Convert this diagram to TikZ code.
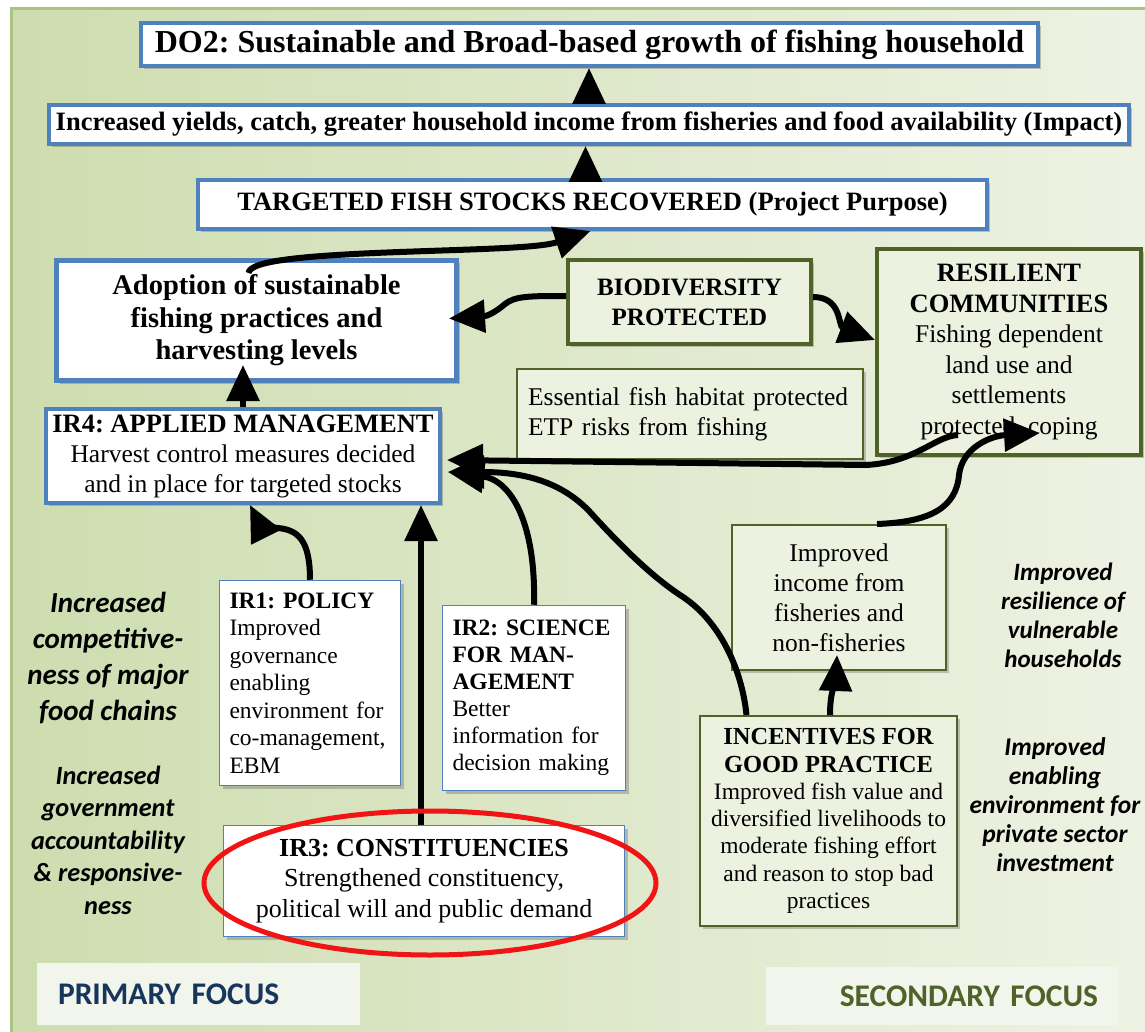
\documentclass[tikz,border=0pt]{standalone}
\usepackage{fontspec}
\setmainfont{Liberation Serif}
\newfontfamily\sidefont{Carlito}
\usetikzlibrary{arrows.meta,shadows,calc}
\definecolor{boxblue}{RGB}{79,129,189}
\definecolor{olivec}{RGB}{79,98,40}
\definecolor{bgL}{RGB}{205,221,175}
\definecolor{bgR}{RGB}{238,242,227}
\definecolor{panelline}{RGB}{170,195,128}
\definecolor{lightfill}{RGB}{236,241,224}
\definecolor{focusfill}{RGB}{241,245,235}
\definecolor{navy}{RGB}{23,54,93}
\definecolor{ringred}{RGB}{240,20,20}
\newcommand{\myfs}[2]{\fontsize{#1}{#2}\selectfont}
\frenchspacing
\tikzset{
  shad/.style={drop shadow={shadow xshift=3pt, shadow yshift=-3pt, opacity=0.3, fill=black!70}},
  bluebox/.style={draw=boxblue, line width=4pt, fill=white, inner sep=0pt, align=center, shad},
  thinblue/.style={draw=boxblue, line width=1.5pt, fill=white, inner sep=0pt, align=center, shad},
  olivebox/.style={draw=olivec, line width=4pt, fill=lightfill, inner sep=0pt, align=center, shad},
  thinolive/.style={draw=olivec, line width=2pt, fill=lightfill, inner sep=0pt, align=center, shad},
  focusbox/.style={fill=focusfill, inner ysep=0pt, font=\sidefont\bfseries\myfs{31.5}{36}},
  arr/.style={line width=6pt, -{Triangle[length=36pt,width=32pt]}}
}
\begin{document}
\begin{tikzpicture}[x=1pt,y=-1pt]
\useasboundingbox (0,0) rectangle (1145,1032);
\fill[white] (0,0) rectangle (1145,1032);
\fill[left color=bgL, right color=bgR] (10,8) rectangle (1145,1032);
\draw[panelline, line width=3pt] (11,1032) -- (11,9) -- (1145,9);

% top chain
\node[bluebox, minimum width=897pt, minimum height=43pt, font=\bfseries\myfs{32}{37}] (do2) at (589.5,44.5) {DO2: Sustainable and Broad-based growth of fishing household};
\node[bluebox, minimum width=1080pt, minimum height=39pt, font=\bfseries\myfs{26.5}{30}] (impact) at (589,124.5) {Increased yields, catch, greater household income from fisheries and food availability (Impact)};
\node[bluebox, minimum width=789pt, minimum height=49pt, font=\bfseries\myfs{26.5}{30}] (target) at (592.5,204.5) {TARGETED FISH STOCKS RECOVERED (Project Purpose)};

% middle
\node[bluebox, line width=5pt, minimum width=400pt, minimum height=120pt, font=\bfseries\myfs{28.5}{32.5}] (adopt) at (256.5,320.5) {Adoption of sustainable\\fishing practices and\\harvesting levels};
\node[bluebox, minimum width=394pt, minimum height=94pt, font=\myfs{25.5}{30}] (ir4) at (243,456) {{\bfseries\myfs{26.5}{30}IR4: APPLIED MANAGEMENT}\\Harvest control measures decided\\and in place for targeted stocks};
\node[olivebox, minimum width=243pt, minimum height=84pt, font=\bfseries\myfs{25}{30}] (biodiv) at (689.5,302) {BIODIVERSITY\\PROTECTED};
\node[thinolive, line width=2.5pt, minimum width=346pt, minimum height=90pt, inner xsep=11pt, text width=324pt, align=left, font=\myfs{25.5}{30}] (essential) at (690,414) {Essential fish habitat protected\\ETP risks from fishing};
\node[olivebox, minimum width=264pt, minimum height=206pt, font=\myfs{25.5}{30.5}] (resil) at (1009,352) {{\bfseries\myfs{26.5}{30.5}RESILIENT}\\{\bfseries\myfs{26.5}{30.5}COMMUNITIES}\\Fishing dependent\\land use and\\settlements\\protected, coping};

% lower boxes
\node[thinblue, minimum width=181pt, minimum height=205pt, inner xsep=10pt, text width=161pt, align=left, font=\myfs{23.5}{27.5}] (ir1) at (310,683) {{\bfseries IR1: POLICY}\\Improved\\governance\\enabling\\environment for\\co-management,\\EBM};
\node[thinblue, minimum width=183pt, minimum height=185pt, inner xsep=10pt, text width=163pt, align=left, font=\myfs{23.5}{27}] (ir2) at (534,698) {{\bfseries IR2: SCIENCE}\\{\bfseries FOR MAN-}\\{\bfseries AGEMENT}\\Better\\information for\\decision making};
\node[thinblue, minimum width=401pt, minimum height=111pt, font=\myfs{26}{30.5}] (ir3) at (424,881) {{\bfseries IR3: CONSTITUENCIES}\\Strengthened constituency,\\political will and public demand};
\node[thinolive, minimum width=214pt, minimum height=145pt, font=\myfs{25.5}{30}] (income) at (839,597.5) {Improved\\income from\\fisheries and\\non-fisheries};
\node[thinolive, minimum width=257pt, minimum height=210pt, font=\myfs{23.5}{27.3}] (incent) at (828.5,821) {{\bfseries\myfs{24.5}{27.3}INCENTIVES FOR}\\{\bfseries\myfs{24.5}{27.3}GOOD PRACTICE}\\Improved fish value and\\diversified livelihoods to\\moderate fishing effort\\and reason to stop bad\\practices};

% side texts
\node[font=\sidefont\bfseries\itshape\myfs{29}{36}, align=center, inner sep=0pt] (compet) at (108,658) {Increased\\competitive-\\ness of major\\food chains};
\node[font=\sidefont\bfseries\itshape\myfs{26.3}{32.5}, align=center, inner sep=0pt] (govt) at (108,840) {Increased\\government\\accountability\\\&{} responsive-\\ness};
\node[font=\sidefont\bfseries\itshape\myfs{25}{29}, align=center, inner sep=0pt] (vuln) at (1063,615) {Improved\\resilience of\\vulnerable\\households};
\node[font=\sidefont\bfseries\itshape\myfs{25.5}{29}, align=center, inner sep=0pt] (priv) at (1055,805) {Improved\\enabling\\environment for\\private sector\\investment};

% focus labels
\node[focusbox, minimum width=323pt, minimum height=62pt, inner xsep=21pt, text width=281pt, align=left, text=navy] (primary) at (198.5,994) {PRIMARY FOCUS};
\node[focusbox, minimum width=352pt, minimum height=58pt, inner xsep=20pt, text width=312pt, align=right, text=olivec] (secondary) at (942,996) {SECONDARY FOCUS};

% arrows
\draw[arr] (impact.north) -- (impact.north |- do2.south);
\draw[arr] ([xshift=-7pt]target.north) -- ([xshift=-7pt]target.north |- impact.south);
\draw[arr] ([xshift=-8pt,yshift=-15pt]adopt.north) .. controls (250,262) and (290,256) .. (400,252) .. controls (480,249) and (540,248) .. ([xshift=-2pt]target.south);
\draw[arr] ([yshift=6pt]biodiv.west) .. controls (530,296) and (515,296) .. (505,304) .. controls (497,311) and (488,316) .. ([xshift=-10pt,yshift=2pt]adopt.east);
\draw[arr] ([yshift=5pt]biodiv.east) .. controls (842,297) and (838,326) .. ([yshift=12pt]resil.west);
\draw[arr] (ir4.north) -- ([yshift=18pt]ir4.north |- adopt.south);
\draw[arr] (ir1.north) .. controls (310,540) and (298,530) .. (278,528) .. controls (266,527) and (257,519) .. ([xshift=7pt]ir4.south);
\draw[arr] ([xshift=-3pt]ir3.north) -- ([xshift=-3pt]ir3.north |- ir4.south);
\draw[arr] (ir2.north) .. controls (536,525) and (512,480) .. ([xshift=6pt,yshift=-16pt]ir4.east);
\draw[arr] ([xshift=-82pt]incent.north) .. controls (742,670) and (720,620) .. (680,595) .. controls (650,575) and (620,545) .. (590,512) .. controls (560,480) and (520,472) .. ([xshift=6pt,yshift=-16pt]ir4.east);
\draw[arr] ([xshift=-51pt,yshift=22pt]resil.south) .. controls (935,436) and (915,463) .. (865,465) -- ([xshift=5pt,yshift=-4pt]ir4.east);
\draw[arr] ([xshift=38pt]income.north) .. controls (930,522) and (956,508) .. (959,475) .. controls (962,448) and (990,436) .. ([xshift=31pt,yshift=-81pt]resil.center);
\draw[arr] ([xshift=1.5pt]incent.north) .. controls +(0,-25) and +(-1,25) .. ([xshift=-2pt,yshift=16pt]income.south);

% red ring
\draw[ringred, line width=5pt] ([xshift=6pt,yshift=-2pt]ir3.center) ellipse [x radius=226pt, y radius=72pt];
\end{tikzpicture}
\end{document}
